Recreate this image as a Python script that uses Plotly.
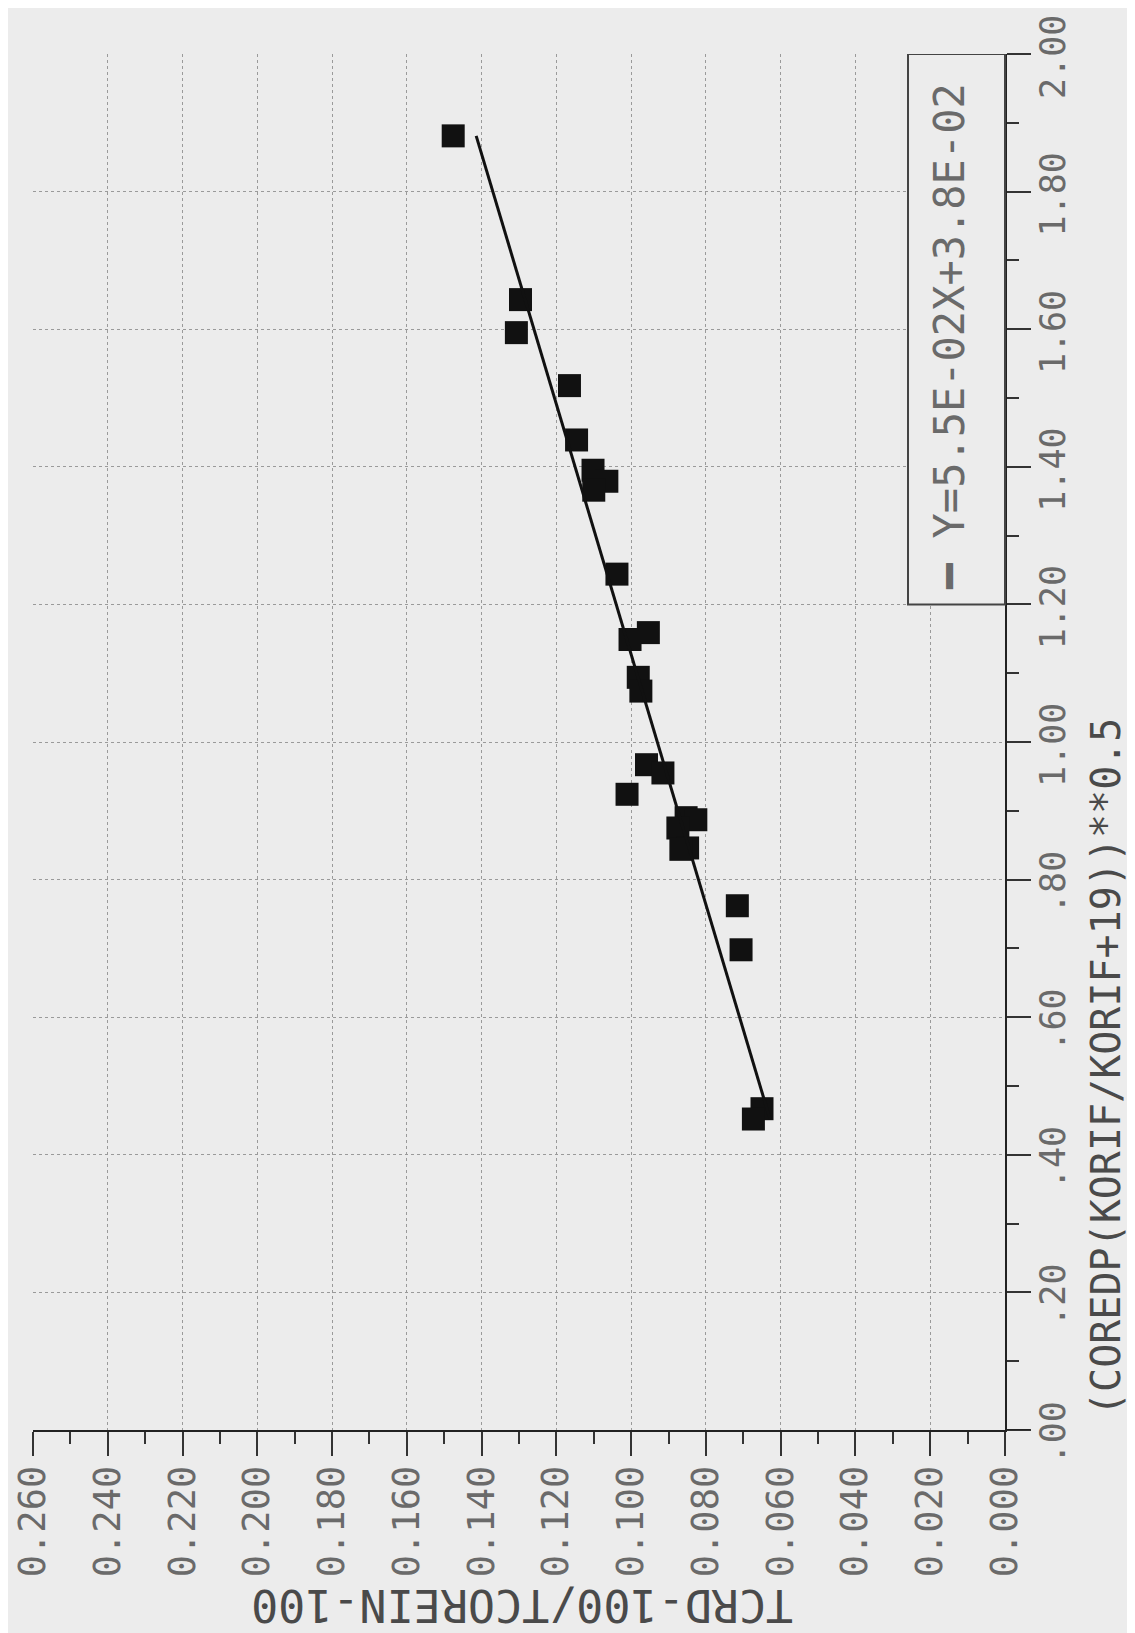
import plotly.graph_objects as go

# ---- data ----
coredp_x = [1.881, 1.643, 1.595, 1.518, 1.439, 1.395, 1.379, 1.366, 1.244, 1.159,
            1.149, 1.094, 1.074, 0.967, 0.955, 0.924, 0.890, 0.887, 0.875, 0.846,
            0.844, 0.762, 0.698, 0.467, 0.452]
tcrd_y = [0.1476, 0.1296, 0.1307, 0.1165, 0.1146, 0.1102, 0.1065, 0.1100, 0.1038, 0.0954,
          0.1003, 0.0981, 0.0974, 0.0959, 0.0915, 0.1011, 0.0853, 0.0827, 0.0875, 0.0849,
          0.0867, 0.0716, 0.0706, 0.0650, 0.0673]
fit_slope = 0.055
fit_intercept = 0.038
fit_label = "Y=5.5E-02X+3.8E-02"
x_tick_vals = [0.00, 0.20, 0.40, 0.60, 0.80, 1.00, 1.20, 1.40, 1.60, 1.80, 2.00]
x_tick_text = [".00", ".20", ".40", ".60", ".80", "1.00", "1.20", "1.40", "1.60", "1.80", "2.00"]
y_tick_vals = [0.26, 0.24, 0.22, 0.20, 0.18, 0.16, 0.14, 0.12, 0.10, 0.08, 0.06, 0.04, 0.02, 0.00]
y_tick_text = ["0.260", "0.240", "0.220", "0.200", "0.180", "0.160", "0.140",
               "0.120", "0.100", "0.080", "0.060", "0.040", "0.020", "0.000"]
y_title = "TCRD-100/TCOREIN-100"
x_title = "(COREDP(KORIF/KORIF+19))**0.5"

# ---- layout geometry (page is the original plot rotated 90 deg CCW) ----
OFF = 8                      # default body margin of the html page
W, H = 1135 - OFF, 1633 - OFF
L, R, T, B = 25, 130, 46, 203
PW, PH = W - L - R, H - T - B
FONT = "DejaVu Sans Mono"
BG = "#ececec"


def px(xp):
    return (xp - OFF - L) / PW


def py(yp):
    return (H - B - (yp - OFF)) / PH


fit_x = [min(coredp_x), max(coredp_x)]
fit_y = [fit_slope * v + fit_intercept for v in fit_x]

fig = go.Figure()
fig.add_trace(go.Scatter(
    x=tcrd_y, y=coredp_x, mode="markers",
    marker=dict(symbol="square", size=23, color="#111111", line=dict(width=0)),
    showlegend=False, hoverinfo="skip"))
fig.add_trace(go.Scatter(
    x=fit_y, y=fit_x, mode="lines",
    line=dict(color="#111111", width=3),
    showlegend=False, hoverinfo="skip"))

axis_common = dict(
    showline=True, linecolor="#222222", linewidth=2,
    ticks="outside", ticklen=24, tickwidth=2, tickcolor="#333333",
    showgrid=True, gridcolor="#9a9a9a", griddash="dot", gridwidth=1,
    zeroline=False, tickangle=-90, ticklabeloverflow="allow", automargin=False,
)

fig.update_layout(
    width=W, height=H,
    margin=dict(l=L, r=R, t=T, b=B, pad=0, autoexpand=False),
    paper_bgcolor=BG, plot_bgcolor=BG,
    xaxis=dict(range=[0.26, 0.0], tickmode="array", tickvals=y_tick_vals,
               ticktext=y_tick_text, side="bottom", ticklabelstandoff=-5,
               tickfont=dict(family=FONT, size=37, color="#6a6a6a"),
               minor=dict(dtick=0.01, tick0=0, ticks="outside", ticklen=12,
                          tickwidth=2, tickcolor="#333333", showgrid=False),
               **axis_common),
    yaxis=dict(range=[0.0, 2.0], tickmode="array", tickvals=x_tick_vals,
               ticktext=x_tick_text, side="right", ticklabelstandoff=-8,
               ticklabelshift=8,
               tickfont=dict(family=FONT, size=35, color="#6a6a6a"),
               minor=dict(dtick=0.1, tick0=0, ticks="outside", ticklen=12,
                          tickwidth=2, tickcolor="#333333", showgrid=False),
               **axis_common),
    shapes=[
        dict(type="rect", xref="paper", yref="y",
             x0=px(908), x1=1.0, y0=1.2, y1=2.0,
             line=dict(color="#444444", width=2), fillcolor=BG, layer="above"),
        dict(type="line", xref="paper", yref="y", x0=1.0, x1=px(1030), y0=0, y1=0,
             line=dict(color="#222222", width=2)),
    ],
    annotations=[
        dict(text="━ " + fit_label, textangle=-90, xref="paper", yref="paper",
             x=px(950), y=py(337), xanchor="center", yanchor="middle", showarrow=False,
             font=dict(family=FONT, size=42, color="#6a6a6a")),
        dict(text=x_title, textangle=-90, xref="paper", yref="paper",
             x=px(1106), y=py(1067), xanchor="center", yanchor="middle", showarrow=False,
             font=dict(family=FONT, size=40, color="#4a4a4a")),
        dict(text=y_title, textangle=180, xref="paper", yref="paper",
             x=px(522), y=py(1606), xanchor="center", yanchor="middle", showarrow=False,
             font=dict(family=FONT, size=45, color="#4a4a4a")),
    ],
)

fig.write_html("out.html")
